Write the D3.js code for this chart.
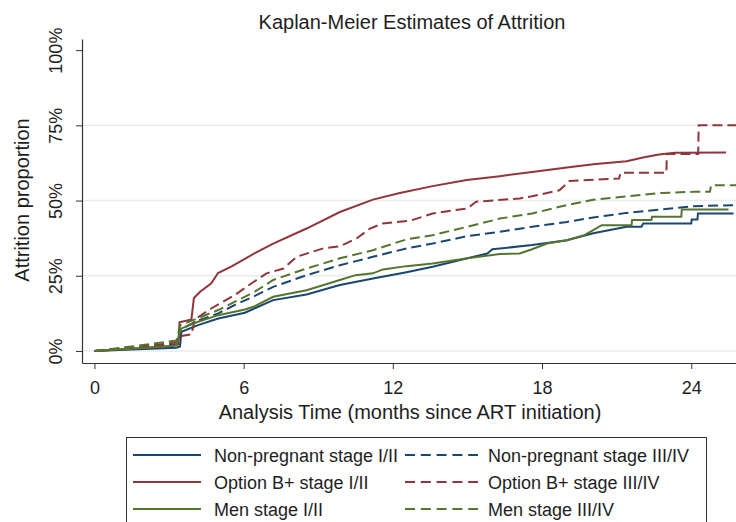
<!DOCTYPE html>
<html>
<head>
<meta charset="utf-8">
<script src="https://cdn.jsdelivr.net/npm/d3@7"></script>
<style>
	body { margin: 0; background: #fff; }
	svg { display: block; font-family: 'Liberation Sans', Arial, sans-serif; }
	.grid line { stroke: #e6edf0; stroke-width: 1.5; }
</style>
</head>
<body>
<svg id="chart" width="736" height="522"></svg>
<script>
// months since ART initiation / attrition %
var npStage12T = [0, 1.5, 3.3, 3.44, 3.5, 4.17, 4.98, 6.05, 6.45, 7.19, 8.53, 9.87, 11.2, 12.55, 13.6, 15.0, 15.8, 16.0, 17.6, 19.0, 20.06, 21.4, 22.0, 22.07, 24.0, 24.02, 24.25, 24.27, 25.7];
var npStage12P = [0, 0.5, 1.1, 1.5, 6.4, 8.6, 10.8, 12.7, 14.2, 16.9, 18.8, 21.9, 24.1, 26.2, 28.0, 30.8, 32.4, 33.8, 35.2, 36.8, 39.1, 41.3, 41.3, 42.4, 42.4, 43.7, 43.7, 45.7, 45.7];

var npStage34T = [0, 1.5, 3.3, 3.4, 3.44, 4.04, 4.98, 5.65, 6.45, 7.19, 8.53, 9.87, 11.2, 12.55, 13.6, 15.0, 16.3, 17.6, 19.0, 20.06, 21.4, 22.7, 24.1, 25.8];
var npStage34P = [0, 1.0, 2.3, 2.5, 7.0, 9.7, 12.5, 15.3, 18.3, 21.3, 25.2, 28.5, 31.3, 34.1, 35.7, 38.2, 39.6, 41.3, 42.9, 44.4, 45.9, 47.0, 48.1, 48.5];

var obStage12T = [0, 1.5, 3.0, 3.38, 3.42, 3.9, 4.0, 4.25, 4.7, 4.97, 5.5, 6.05, 6.45, 7.19, 8.53, 9.87, 11.2, 12.28, 13.6, 14.97, 16.3, 17.6, 19.0, 20.06, 21.4, 22.06, 22.7, 23.34, 25.4];
var obStage12P = [0, 0.7, 1.5, 2.2, 9.5, 10.5, 17.6, 19.7, 22.5, 25.9, 28.0, 30.6, 32.5, 35.7, 40.7, 46.2, 50.3, 52.5, 54.8, 56.8, 58.1, 59.5, 61.0, 62.1, 63.1, 64.3, 65.3, 65.9, 66.0];

var obStage34T = [0, 1.5, 3.0, 3.4, 3.5, 3.9, 4.04, 4.71, 5.65, 6.32, 6.92, 7.6, 8.13, 9.2, 9.87, 10.54, 11.08, 11.6, 12.7, 13.6, 15.0, 15.35, 17.1, 17.6, 18.7, 19.1, 21.1, 21.15, 23.0, 23.02, 24.28, 24.3, 25.8];
var obStage34P = [0, 1.2, 2.5, 3.2, 5.0, 5.5, 10.5, 14.2, 18.6, 22.5, 25.8, 27.4, 31.3, 34.1, 34.8, 37.4, 40.7, 42.4, 43.3, 45.7, 47.4, 49.6, 50.7, 51.4, 53.4, 56.5, 57.3, 59.2, 59.2, 65.5, 65.5, 75.0, 75.0];

var menStage12T = [0, 1.5, 3.3, 3.4, 3.5, 4.17, 4.98, 6.05, 6.45, 7.19, 8.53, 9.87, 10.5, 11.2, 11.6, 12.55, 13.6, 15.0, 16.3, 17.1, 17.6, 18.2, 19.0, 19.7, 20.06, 20.4, 21.6, 21.62, 22.4, 22.42, 23.6, 23.62, 25.5];
var menStage12P = [0, 0.7, 1.8, 5.3, 7.5, 9.7, 11.9, 13.8, 14.9, 18.0, 20.2, 23.6, 25.2, 25.8, 27.1, 28.2, 29.1, 30.8, 32.2, 32.4, 33.8, 35.7, 36.8, 38.5, 40.2, 41.8, 41.8, 43.5, 43.5, 44.6, 44.6, 47.0, 47.0];

var menStage34T = [0, 1.5, 3.3, 3.45, 4.04, 4.98, 5.65, 6.45, 7.19, 8.53, 9.87, 11.2, 12.55, 13.6, 15.0, 16.3, 17.6, 19.0, 20.06, 21.4, 22.7, 24.1, 24.75, 24.8, 25.8];
var menStage34P = [0, 1.5, 3.5, 8.6, 10.5, 13.6, 16.4, 19.7, 23.6, 27.4, 30.8, 33.5, 37.1, 38.5, 41.3, 44.0, 45.7, 48.5, 50.3, 51.4, 52.5, 52.9, 52.9, 55.1, 55.1];

var seriesNames = ['Non-pregnant stage I/II', 'Non-pregnant stage III/IV', 'Option B+ stage I/II', 'Option B+ stage III/IV', 'Men stage I/II', 'Men stage III/IV'];
var xTicks = [0, 6, 12, 18, 24];
var yTicks = [0, 25, 50, 75, 100];
var yGrid = [0, 25, 50, 75];

var colors = { np: '#1a476f', ob: '#90353b', men: '#55752f' };

var series = [
	{ name: seriesNames[0], t: npStage12T, p: npStage12P, color: colors.np, dashed: false },
	{ name: seriesNames[1], t: npStage34T, p: npStage34P, color: colors.np, dashed: true },
	{ name: seriesNames[2], t: obStage12T, p: obStage12P, color: colors.ob, dashed: false },
	{ name: seriesNames[3], t: obStage34T, p: obStage34P, color: colors.ob, dashed: true },
	{ name: seriesNames[4], t: menStage12T, p: menStage12P, color: colors.men, dashed: false },
	{ name: seriesNames[5], t: menStage34T, p: menStage34P, color: colors.men, dashed: true }
];

var svg = d3.select('#chart');

var x = d3.scaleLinear()
	.domain([-0.5, 25.8])
	.range([82, 736]);

var y = d3.scaleLinear()
	.domain([-4, 103.7])
	.range([363, 39]);

var textColor = '#1e1e1e';

// grid
svg.append('g')
	.attr('class', 'grid')
	.selectAll('line')
	.data(yGrid)
	.enter()
	.append('line')
	.attr('x1', x.range()[0] + 1)
	.attr('x2', x.range()[1])
	.attr('y1', function(d) { return y(d); })
	.attr('y2', function(d) { return y(d); });

// axes
var xAxis = svg.append('g')
	.attr('transform', 'translate(0,' + y.range()[0] + ')')
	.call(d3.axisBottom(x).tickValues(xTicks).tickSize(6).tickSizeOuter(0).tickPadding(12));

var yAxis = svg.append('g')
	.attr('transform', 'translate(' + x.range()[0] + ',0)')
	.call(d3.axisLeft(y).tickValues(yTicks).tickSize(6).tickSizeOuter(0).tickFormat(function(d) { return d + '%'; }));

xAxis.select('.domain').attr('stroke', '#333').attr('stroke-width', 1.2);
yAxis.select('.domain').attr('stroke', '#333').attr('stroke-width', 1.2);
xAxis.selectAll('.tick line').attr('stroke', '#333');
yAxis.selectAll('.tick line').attr('stroke', '#333');

xAxis.selectAll('.tick text')
	.attr('font-size', 18)
	.attr('fill', textColor);

yAxis.selectAll('.tick text')
	.attr('font-size', 18)
	.attr('fill', textColor)
	.attr('x', null)
	.attr('dy', null)
	.attr('text-anchor', 'middle')
	.attr('transform', 'translate(-20,0) rotate(-90)');

xAxis.attr('font-family', null);
yAxis.attr('font-family', null);

// curves
var line = d3.line()
	.x(function(d) { return x(d[0]); })
	.y(function(d) { return y(d[1]); });

svg.append('g')
	.selectAll('path')
	.data(series)
	.enter()
	.append('path')
	.attr('d', function(d) {
		return line(d.t.map(function(t, i) { return [t, d.p[i]]; }));
	})
	.attr('fill', 'none')
	.attr('stroke', function(d) { return d.color; })
	.attr('stroke-width', 2)
	.attr('stroke-dasharray', function(d) { return d.dashed ? '10,5' : null; });

// titles
svg.append('text')
	.attr('x', 412)
	.attr('y', 29)
	.attr('text-anchor', 'middle')
	.attr('font-size', 20)
	.attr('fill', textColor)
	.text('Kaplan-Meier Estimates of Attrition');

svg.append('text')
	.attr('x', 410)
	.attr('y', 419)
	.attr('text-anchor', 'middle')
	.attr('font-size', 20)
	.attr('fill', textColor)
	.text('Analysis Time (months since ART initiation)');

svg.append('text')
	.attr('transform', 'translate(29,200) rotate(-90)')
	.attr('text-anchor', 'middle')
	.attr('font-size', 20)
	.attr('fill', textColor)
	.text('Attrition proportion');

// legend
var legend = svg.append('g');

legend.append('rect')
	.attr('x', 126.5)
	.attr('y', 437.5)
	.attr('width', 580)
	.attr('height', 100)
	.attr('fill', '#fff')
	.attr('stroke', '#333')
	.attr('stroke-width', 1);

var item = legend.selectAll('.legend-item')
	.data(series)
	.enter()
	.append('g')
	.attr('class', 'legend-item')
	.attr('transform', function(d, i) {
		var col = i % 2, row = Math.floor(i / 2);
		return 'translate(' + (col === 0 ? 133 : 405) + ',' + (455 + row * 27) + ')';
	});

item.append('line')
	.attr('x1', 0)
	.attr('x2', function(d) { return d.dashed ? 73 : 68; })
	.attr('stroke', function(d) { return d.color; })
	.attr('stroke-width', 2)
	.attr('stroke-dasharray', function(d) { return d.dashed ? '10,5.8' : null; });

item.append('text')
	.attr('x', function(d) { return d.dashed ? 83 : 81; })
	.attr('y', 6.5)
	.attr('font-size', 18)
	.attr('fill', textColor)
	.text(function(d) { return d.name; });
</script>
</body>
</html>
